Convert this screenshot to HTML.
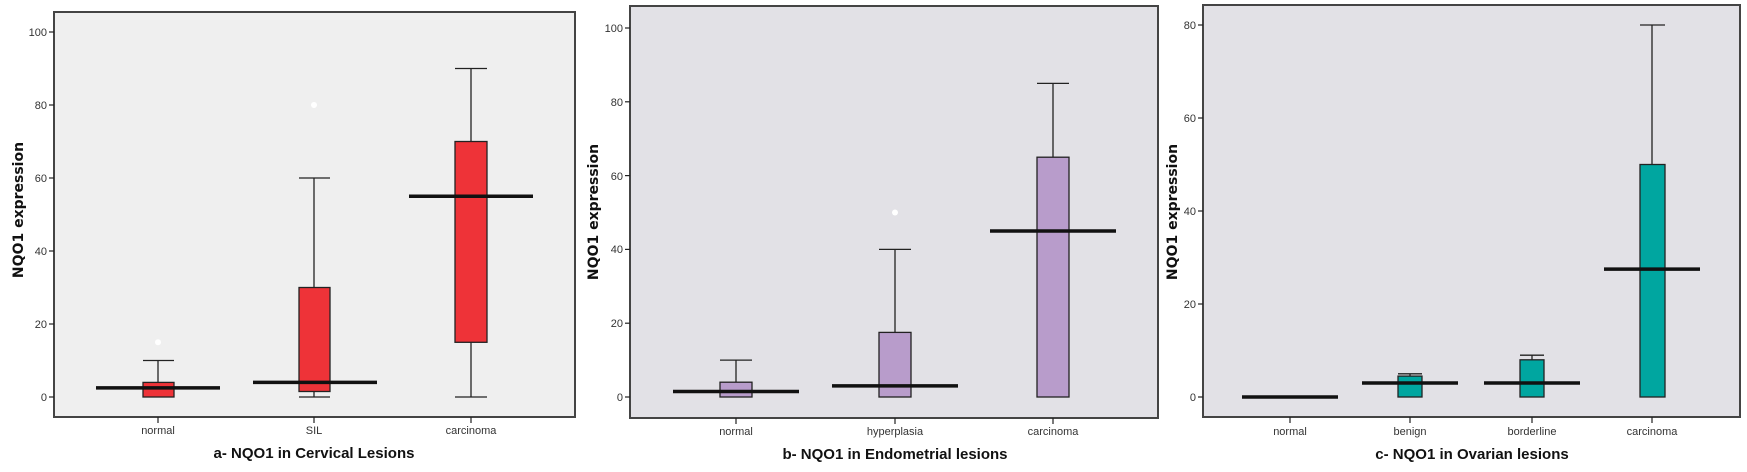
<!DOCTYPE html>
<html><head><meta charset="utf-8"><style>
html,body{margin:0;padding:0;background:#fff;}
svg{display:block;}
.t{font-family:"Liberation Sans",sans-serif;font-size:11px;fill:#333;}
.ttl{font-family:"Liberation Sans",sans-serif;font-size:15px;font-weight:bold;fill:#111;}
.yl{font-family:"DejaVu Sans","Liberation Sans",sans-serif;font-size:14px;font-weight:bold;fill:#111;}
</style></head><body>
<svg width="1747" height="472" viewBox="0 0 1747 472" xmlns="http://www.w3.org/2000/svg">
<g stroke="#222" stroke-width="1.3">
<!-- Panel a -->
<rect x="54" y="12" width="521" height="405" fill="#efefef" stroke="#444" stroke-width="2"/>
<g stroke-width="1.2">
<line x1="49" y1="397" x2="54" y2="397"/><line x1="49" y1="324" x2="54" y2="324"/><line x1="49" y1="251" x2="54" y2="251"/><line x1="49" y1="178" x2="54" y2="178"/><line x1="49" y1="105" x2="54" y2="105"/><line x1="49" y1="32" x2="54" y2="32"/>
<line x1="158" y1="417" x2="158" y2="423"/><line x1="314" y1="417" x2="314" y2="423"/><line x1="471" y1="417" x2="471" y2="423"/>
</g>
<!-- normal -->
<line x1="158" y1="382.4" x2="158" y2="360.5"/><line x1="143" y1="360.5" x2="174" y2="360.5"/>
<rect x="143" y="382.4" width="31" height="14.6" fill="#ee3338"/>
<line x1="96" y1="387.9" x2="220" y2="387.9" stroke-width="3.5" stroke="#111"/>
<circle cx="158" cy="342.3" r="3" fill="#fff" stroke="none"/>
<!-- SIL -->
<line x1="314" y1="391.5" x2="314" y2="397"/><line x1="299" y1="397" x2="330" y2="397"/>
<line x1="314" y1="287.5" x2="314" y2="178"/><line x1="299" y1="178" x2="330" y2="178"/>
<rect x="299" y="287.5" width="31" height="104" fill="#ee3338"/>
<line x1="253" y1="382.4" x2="377" y2="382.4" stroke-width="3.5" stroke="#111"/>
<circle cx="314" cy="105" r="3" fill="#fff" stroke="none"/>
<!-- carcinoma -->
<line x1="471" y1="342.3" x2="471" y2="397"/><line x1="455" y1="397" x2="487" y2="397"/>
<line x1="471" y1="141.5" x2="471" y2="68.5"/><line x1="455" y1="68.5" x2="487" y2="68.5"/>
<rect x="455" y="141.5" width="32" height="200.8" fill="#ee3338"/>
<line x1="409" y1="196.2" x2="533" y2="196.2" stroke-width="3.5" stroke="#111"/>

<!-- Panel b -->
<rect x="630" y="6" width="528" height="412" fill="#e2e1e6" stroke="#444" stroke-width="2"/>
<g stroke-width="1.2">
<line x1="625" y1="397" x2="630" y2="397"/><line x1="625" y1="323.2" x2="630" y2="323.2"/><line x1="625" y1="249.4" x2="630" y2="249.4"/><line x1="625" y1="175.6" x2="630" y2="175.6"/><line x1="625" y1="101.8" x2="630" y2="101.8"/><line x1="625" y1="28" x2="630" y2="28"/>
<line x1="736" y1="418" x2="736" y2="424"/><line x1="895" y1="418" x2="895" y2="424"/><line x1="1053" y1="418" x2="1053" y2="424"/>
</g>
<line x1="736" y1="382.2" x2="736" y2="360.1"/><line x1="720" y1="360.1" x2="752" y2="360.1"/>
<rect x="720" y="382.2" width="32" height="14.8" fill="#b89ccb"/>
<line x1="673" y1="391.5" x2="799" y2="391.5" stroke-width="3.5" stroke="#111"/>
<line x1="895" y1="332.4" x2="895" y2="249.4"/><line x1="879" y1="249.4" x2="911" y2="249.4"/>
<rect x="879" y="332.4" width="32" height="64.6" fill="#b89ccb"/>
<line x1="832" y1="385.9" x2="958" y2="385.9" stroke-width="3.5" stroke="#111"/>
<circle cx="895" cy="212.5" r="3" fill="#fff" stroke="none"/>
<line x1="1053" y1="157.2" x2="1053" y2="83.4"/><line x1="1037" y1="83.4" x2="1069" y2="83.4"/>
<rect x="1037" y="157.2" width="32" height="239.8" fill="#b89ccb"/>
<line x1="990" y1="231" x2="1116" y2="231" stroke-width="3.5" stroke="#111"/>

<!-- Panel c -->
<rect x="1203" y="5" width="537" height="412" fill="#e2e1e6" stroke="#444" stroke-width="2"/>
<g stroke-width="1.2">
<line x1="1198" y1="397" x2="1203" y2="397"/><line x1="1198" y1="304" x2="1203" y2="304"/><line x1="1198" y1="211" x2="1203" y2="211"/><line x1="1198" y1="118" x2="1203" y2="118"/><line x1="1198" y1="25" x2="1203" y2="25"/>
<line x1="1290" y1="417" x2="1290" y2="423"/><line x1="1410" y1="417" x2="1410" y2="423"/><line x1="1532" y1="417" x2="1532" y2="423"/><line x1="1652" y1="417" x2="1652" y2="423"/>
</g>
<line x1="1242" y1="397" x2="1338" y2="397" stroke-width="3.5" stroke="#111"/>
<line x1="1410" y1="376.1" x2="1410" y2="373.8"/><line x1="1398" y1="373.8" x2="1422" y2="373.8"/>
<rect x="1398" y="376.1" width="24" height="20.9" fill="#00a6a0"/>
<line x1="1362" y1="383" x2="1458" y2="383" stroke-width="3.5" stroke="#111"/>
<line x1="1532" y1="359.8" x2="1532" y2="355.2"/><line x1="1520" y1="355.2" x2="1544" y2="355.2"/>
<rect x="1520" y="359.8" width="24" height="37.2" fill="#00a6a0"/>
<line x1="1484" y1="383" x2="1580" y2="383" stroke-width="3.5" stroke="#111"/>
<line x1="1652" y1="164.5" x2="1652" y2="25"/><line x1="1640" y1="25" x2="1665" y2="25"/>
<rect x="1640" y="164.5" width="25" height="232.5" fill="#00a6a0"/>
<line x1="1604" y1="269.1" x2="1700" y2="269.1" stroke-width="3.5" stroke="#111"/>
</g>

<!-- tick labels a -->
<g class="t" text-anchor="end">
<text x="47" y="401">0</text><text x="47" y="328">20</text><text x="47" y="255">40</text><text x="47" y="182">60</text><text x="47" y="109">80</text><text x="47" y="36">100</text>
<text x="623" y="401">0</text><text x="623" y="327">20</text><text x="623" y="253">40</text><text x="623" y="180">60</text><text x="623" y="106">80</text><text x="623" y="32">100</text>
<text x="1196" y="401">0</text><text x="1196" y="308">20</text><text x="1196" y="215">40</text><text x="1196" y="122">60</text><text x="1196" y="29">80</text>
</g>
<g class="t" text-anchor="middle">
<text x="158" y="434">normal</text><text x="314" y="434">SIL</text><text x="471" y="434">carcinoma</text>
<text x="736" y="435">normal</text><text x="895" y="435">hyperplasia</text><text x="1053" y="435">carcinoma</text>
<text x="1290" y="435">normal</text><text x="1410" y="435">benign</text><text x="1532" y="435">borderline</text><text x="1652" y="435">carcinoma</text>
</g>
<g class="ttl" text-anchor="middle">
<text x="314" y="458">a- NQO1 in Cervical Lesions</text>
<text x="895" y="459">b- NQO1 in Endometrial lesions</text>
<text x="1472" y="459">c- NQO1 in Ovarian lesions</text>
</g>
<g class="yl" text-anchor="middle">
<text transform="translate(23,210) rotate(-90)">NQO1 expression</text>
<text transform="translate(598,212) rotate(-90)">NQO1 expression</text>
<text transform="translate(1177,212) rotate(-90)">NQO1 expression</text>
</g>
</svg>
</body></html>
